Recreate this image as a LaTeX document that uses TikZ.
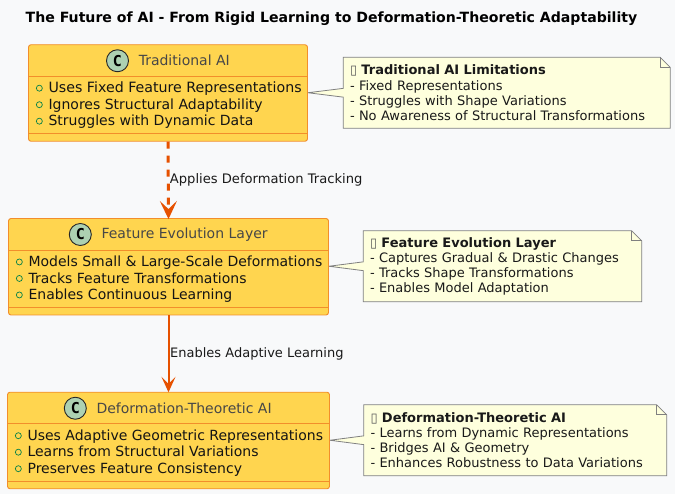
\documentclass[tikz,border=0pt]{standalone}
\usepackage{fontspec}
\setmainfont{DejaVu Sans}
\newfontfamily\markfont{DejaVu Sans Mono}
\usepackage{xcolor}
\usetikzlibrary{positioning,arrows.meta,backgrounds}
\definecolor{pagebg}{HTML}{F8F9FA}
\definecolor{classfill}{HTML}{FFD54F}
\definecolor{classedge}{HTML}{F28E2B}
\definecolor{linkcol}{HTML}{E65100}
\definecolor{markfill}{HTML}{ADD1B2}
\definecolor{notefill}{HTML}{FEFFDD}
\definecolor{rowmarkcol}{HTML}{038048}
\tikzset{
  classbox/.style={draw=classedge,fill=classfill,rounded corners=2.5pt,line width=0.9pt,minimum height=96.5pt,inner sep=0pt},
  classline/.style={draw=classedge,line width=0.9pt},
  classmark/.style={circle,draw=black!85,fill=markfill,minimum size=22pt,inner sep=0pt,line width=0.9pt,font=\fontsize{15}{15}\markfont\bfseries},
  classname/.style={inner sep=0pt,text=black!72,font=\fontsize{14}{16}\selectfont},
  rowtext/.style={anchor=base west,inner sep=0pt,text=black!92,font=\fontsize{14}{16}\selectfont},
  rowmark/.style={circle,draw=rowmarkcol,minimum size=6pt,inner sep=0pt,line width=0.7pt},
  notebox/.style={align=left,inner sep=0pt,minimum height=70.5pt,text=black!90,font=\fontsize{13}{15.1}\selectfont},
  noteline/.style={draw=black!50,fill=notefill,line width=0.8pt,line join=miter},
  linklabel/.style={anchor=west,inner sep=0pt,text=black!90,font=\fontsize{13}{15}\selectfont}
}
\begin{document}
\begin{tikzpicture}[x=1pt,y=-1pt]
\useasboundingbox (0,0) rectangle (675,494);
\begin{scope}[on background layer]
\fill[pagebg] (0,0) rectangle (675,494);
\end{scope}
\node[inner sep=0pt,font=\fontsize{14.1}{16}\selectfont\bfseries] (pagetitle) at (331.5,19) {The Future of AI - From Rigid Learning to Deformation-Theoretic Adaptability};
% class boxes
\foreach \nm/\cx/\cy/\boxw/\mx/\ttl/\ra/\rb/\rc in {
  tradbox/168/93/279/117.5/Traditional AI/{\fontsize{14.2}{16}\selectfont Uses Fixed Feature Representations}/Ignores Structural Adaptability/Struggles with Dynamic Data,
  featbox/168.5/266.75/320/80.3/Feature Evolution Layer/Models Small \& Large-Scale Deformations/Tracks Feature Transformations/Enables Continuous Learning,
  deforbox/168.5/440.5/322/75.3/Deformation-Theoretic AI/Uses Adaptive Geometric Representations/Learns from Structural Variations/Preserves Feature Consistency} {
  \node[classbox,minimum width=\boxw pt] (\nm) at (\cx,\cy) {};
  \draw[classline] ([yshift=-32pt]\nm.north west) -- ([yshift=-32pt]\nm.north east);
  \draw[classline] ([yshift=8pt]\nm.south west) -- ([yshift=8pt]\nm.south east);
  \node[classmark] (\nm-mark) at (\mx,\cy-32.25) {C};
  \node[classname,right=9.6pt of \nm-mark] (\nm-name) {\ttl};
  \foreach \i/\off/\row in {1/48.5/\ra,2/65/\rb,3/81.5/\rc} {
    \node[rowtext] (\nm-row\i) at ([xshift=20.3pt,yshift=-\off pt]\nm.north west) {\row};
    \node[rowmark] (\nm-dot\i) at ([xshift=-9pt,yshift=4.6pt]\nm-row\i.base west) {};
  }
}
% notes
\foreach \nm/\bx/\nx/\nw/\ny/\nt/\body in {
  tradnote/tradbox/506.75/326.5/92.75/Traditional AI Limitations/{- Fixed Representations\\- Struggles with Shape Variations\\- No Awareness of Structural Transformations},
  featnote/featbox/502.5/278/266.25/Feature Evolution Layer/{- Captures Gradual \& Drastic Changes\\- Tracks Shape Transformations\\- Enables Model Adaptation},
  defornote/deforbox/515.25/302.5/440.25/Deformation-Theoretic AI/{- Learns from Dynamic Representations\\- Bridges AI \& Geometry\\- Enhances Robustness to Data Variations}} {
  \node[notebox,text width=\nw pt-13pt] (\nm) at (\nx,\ny) {{\bfseries{\color{black!65}▯} \nt}\\\body};
  \begin{scope}[on background layer]
  \coordinate (\nm-tip) at (\bx.east |- \nm.west);
  \path[noteline,draw] ([xshift=-6.5pt]\nm.north west) -- ([xshift=-3.5pt]\nm.north east) -- ([xshift=6.5pt,yshift=-10pt]\nm.north east)
    -- ([xshift=6.5pt]\nm.south east) -- ([xshift=-6.5pt]\nm.south west) -- ([xshift=-6.5pt,yshift=-4.4pt]\nm.west)
    -- (\nm-tip) -- ([xshift=-6.5pt,yshift=4.4pt]\nm.west) -- cycle;
  \draw[noteline,fill=none] ([xshift=-3.5pt]\nm.north east) -- ([xshift=-3.5pt,yshift=-10pt]\nm.north east) -- ([xshift=6.5pt,yshift=-10pt]\nm.north east);
  \end{scope}
}
% links
\draw[draw=linkcol,line width=3pt,dash pattern=on 7pt off 7pt,-{Stealth[length=18pt,width=17pt,inset=8pt,fill=linkcol]}] (tradbox.south) -- ([yshift=-1pt]featbox.north) node[pos=0.5,xshift=1.5pt] (linka) {};
\draw[draw=linkcol,line width=2pt,-{Stealth[length=15.5pt,width=14pt,inset=7pt,fill=linkcol]}] (featbox.south) -- ([yshift=-0.5pt]deforbox.north) node[pos=0.5,xshift=1.5pt] (linkb) {};
\node[linklabel,font=\fontsize{13.1}{15}\selectfont] (linka-text) at (linka.center) {Applies Deformation Tracking};
\node[linklabel] (linkb-text) at (linkb.center) {Enables Adaptive Learning};
\end{tikzpicture}
\end{document}
